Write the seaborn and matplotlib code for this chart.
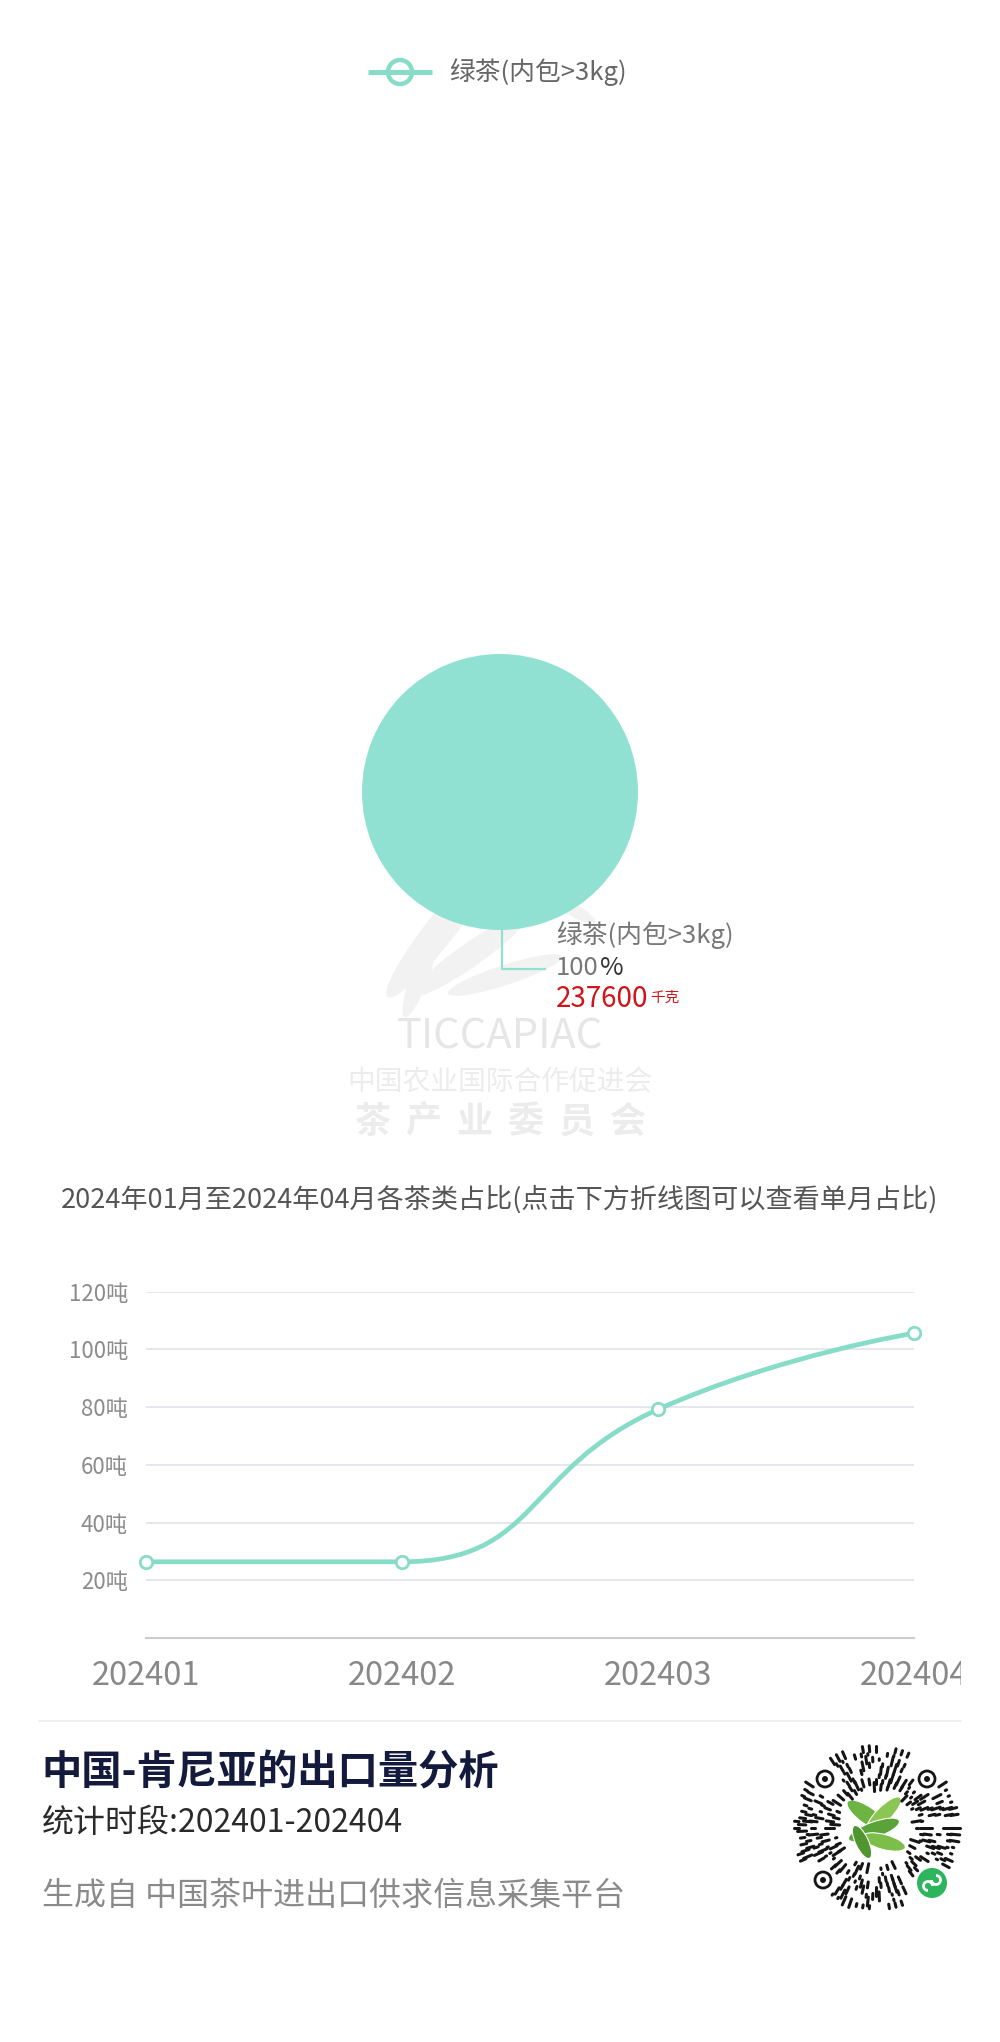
import numpy as np
import pandas as pd
import seaborn as sns
import matplotlib.pyplot as plt
from matplotlib.path import Path
from matplotlib.patches import PathPatch, Circle, Ellipse, Arc
from matplotlib.collections import LineCollection
from matplotlib.transforms import Bbox, TransformedBbox

# Data
pie_labels = ['绿茶(内包>3kg)']
pie_values = [237600]          # 千克
pie_share = ['100']
months = ['202401', '202402', '202403', '202404']
tonnes = [26.4, 26.4, 79.2, 105.6]
y_ticks = [20, 40, 60, 80, 100, 120]
y_tick_labels = [f'{v}吨' for v in y_ticks]

subtitle = '2024年01月至2024年04月各茶类占比(点击下方折线图可以查看单月占比)'
title = '中国-肯尼亚的出口量分析'
period = '统计时段:202401-202404'
source = '生成自 中国茶叶进出口供求信息采集平台'

PIE = '#90e1d2'
LINE = '#86dcc7'
W, H = 1000, 2042

sns.set_theme(style='white')
plt.rcParams['font.family'] = ['Noto Sans CJK SC', 'DejaVu Sans']
plt.rcParams['axes.unicode_minus'] = False

fig = plt.figure(figsize=(W / 100, H / 100), dpi=100)
fig.patch.set_facecolor('white')


def fx(px):
    return px / W


def fy(py):
    return 1 - py / H


# pixel overlays, one behind the charts and one in front
back = fig.add_axes([0, 0, 1, 1], zorder=0)
front = fig.add_axes([0, 0, 1, 1], zorder=5)
for a in (back, front):
    a.set_xlim(0, W)
    a.set_ylim(H, 0)
    a.axis('off')
    a.patch.set_alpha(0)

# Legend
front.plot([368, 432], [72, 72], color=LINE, lw=3.6, solid_capstyle='butt')
front.add_patch(Circle((400, 72), 12, facecolor='white', edgecolor=LINE, lw=3.2))
front.text(449, 72, pie_labels[0], fontsize=18.5, color='#666666', va='center')

# Watermark
for (cx, cy, w, h, ang) in [(440, 930, 170, 30, -52), (470, 955, 140, 24, -35),
                            (505, 975, 120, 20, -18), (420, 975, 90, 18, -70),
                            (565, 905, 70, 14, 30)]:
    back.add_patch(Ellipse((cx, cy), w, h, angle=ang, facecolor='#f2f2f2', edgecolor='none'))
back.text(500, 1037, 'TICCAPIAC', fontsize=30, color='#e6e6e6', ha='center', va='center')
back.text(500, 1082, '中国农业国际合作促进会', fontsize=20, color='#ececec', ha='center', va='center')
for i, ch in enumerate('茶产业委员会'):
    back.text(500 + (i - 2.5) * 51, 1122, ch, fontsize=26, weight='bold', color='#ececec',
              ha='center', va='center')

# Pie
pr = 138
ax_pie = fig.add_axes([fx(500 - pr), fy(792 + pr), 2 * pr / W, 2 * pr / H], zorder=2)
ax_pie.pie(pie_values, colors=[PIE], startangle=90, radius=1,
           wedgeprops=dict(linewidth=0))
ax_pie.set_xlim(-1, 1)
ax_pie.set_ylim(-1, 1)
ax_pie.set_aspect('equal')
ax_pie.patch.set_alpha(0)

front.plot([502, 502, 545], [928, 969, 969], color=PIE, lw=1.6)
front.text(556, 935, pie_labels[0], fontsize=18.5, color='#777777', va='center')
t_pct = front.text(556, 968, pie_share[0], fontsize=18.5, color='#777777', va='center')
front.annotate('%', xy=(1, 0.5), xycoords=t_pct, xytext=(1, 0), textcoords='offset points',
               fontsize=18.5, color='#333333', va='center')
t_val = front.text(556, 999, str(pie_values[0]), fontsize=20, color='#d0141a', va='center')
front.annotate('千克', xy=(1, 0.3), xycoords=t_val, xytext=(1, 0), textcoords='offset points',
               fontsize=10.5, color='#d0141a', va='bottom')

# Subtitle
front.text(500, 1199, subtitle, fontsize=19.5, color='#555555', ha='center', va='center')

# Line chart
x_left, x_right = 146, 914
y_top, y_bot = 1291.6, 1638
ax = fig.add_axes([fx(x_left), fy(y_bot), (x_right - x_left) / W, (y_bot - y_top) / H], zorder=2)
ax.patch.set_alpha(0)
xs = np.arange(len(months))
ax.set_xlim(0, len(months) - 1)
ax.set_ylim(0, 120)

# smoothed line (echarts-style bezier control points, computed in pixel space)
sx = (x_right - x_left) / (len(months) - 1)
sy = (y_bot - y_top) / 120
px = xs * sx
py = np.array(tonnes) * sy
n = len(px)
cin = [None] * n
cout = [None] * n
cout[0] = (px[0], py[0])
cin[-1] = (px[-1], py[-1])
s = 0.5
for i in range(1, n - 1):
    x, y = px[i], py[i]
    x0, y0, x1, y1 = px[i - 1], py[i - 1], px[i + 1], py[i + 1]
    vx, vy = x1 - x0, y1 - y0
    l0 = np.hypot(x - x0, y - y0)
    l1 = np.hypot(x1 - x, y1 - y)
    r = l1 / (l0 + l1)
    nx, ny = x + vx * s * r, y + vy * s * r
    nx = max(min(nx, max(x1, x)), min(x1, x))
    ny = max(min(ny, max(y1, y)), min(y1, y))
    vx, vy = nx - x, ny - y
    cx, cy = x - vx * l0 / l1, y - vy * l0 / l1
    cx = max(min(cx, max(x0, x)), min(x0, x))
    cy = max(min(cy, max(y0, y)), min(y0, y))
    vx, vy = x - cx, y - cy
    nx, ny = x + vx * l1 / l0, y + vy * l1 / l0
    cin[i] = (cx, cy)
    cout[i] = (nx, ny)
verts = [(px[0], py[0])]
codes = [Path.MOVETO]
for i in range(n - 1):
    verts += [cout[i], cin[i + 1], (px[i + 1], py[i + 1])]
    codes += [Path.CURVE4] * 3
verts = [(vx_ / sx, vy_ / sy) for vx_, vy_ in verts]
ax.add_patch(PathPatch(Path(verts, codes), fill=False, edgecolor=LINE, lw=3.4,
                       capstyle='round', joinstyle='round', zorder=3))

df = pd.DataFrame({'x': xs, 'tonnes': tonnes})
sns.scatterplot(data=df, x='x', y='tonnes', ax=ax, s=80, color='white', edgecolor=LINE,
                linewidth=2.0, zorder=4, clip_on=False, legend=False)

ax.set_yticks(y_ticks, y_tick_labels)
ax.set_xticks(xs, months)
ax.grid(axis='y', color='#e6e6ee', lw=1.4)
ax.grid(axis='x', visible=False)
for sp in ['left', 'right', 'top']:
    ax.spines[sp].set_visible(False)
ax.spines['bottom'].set_color('#cccccc')
ax.spines['bottom'].set_linewidth(1.5)
ax.tick_params(axis='y', length=0, pad=13, labelsize=16, labelcolor='#8c8c8c')
ax.tick_params(axis='x', direction='in', length=9, width=1.1, color='#cccccc', pad=16,
               labelsize=23.5, labelcolor='#888888')
ax.set_xlabel('')
ax.set_ylabel('')
clip = TransformedBbox(Bbox([[fx(39), 0], [fx(961), 1]]), fig.transFigure)
for lbl in ax.get_xticklabels():
    lbl.set_clip_box(clip)
    lbl.set_clip_on(True)

# Footer
front.plot([39, 961], [1721, 1721], color='#eeeeee', lw=1.2)
front.text(41, 1773, title, fontsize=29, weight='bold', color='#141a3c', va='center')
front.text(42, 1823, period, fontsize=23, color='#2a2a2a', va='center')
front.text(42, 1896, source, fontsize=23, color='#8a8a8a', va='center')

# Mini-program code
qx, qy, qr = 876, 1828, 82
eyes = [(qx - 51, qy - 49), (qx + 51, qy - 49), (qx - 53, qy + 52)]
badge = (qx + 56, qy + 55)
segs = []
for k, rr in enumerate(np.arange(41, qr, 5.5)):
    m = int(2 * np.pi * rr / 6.5)
    for j in range(m):
        ang = 2 * np.pi * j / m
        ex, ey = qx + rr * np.cos(ang), qy + rr * np.sin(ang)
        if any(np.hypot(ex - a, ey - b) < 16 for a, b in eyes):
            continue
        if np.hypot(ex - badge[0], ey - badge[1]) < 21:
            continue
        v = (j * 7 + k * 11 + (j * k) % 5) % 9
        if v > 5:
            continue
        ln = 1.5 + v * 1.5
        dx, dy = np.cos(ang) * ln / 2, np.sin(ang) * ln / 2
        segs.append([(ex - dx, ey - dy), (ex + dx, ey + dy)])
front.add_collection(LineCollection(segs, colors='#151515', linewidths=2.2, capstyle='round'))
for a, b in eyes:
    front.add_patch(Circle((a, b), 8, facecolor='white', edgecolor='#151515', lw=2.0))
    front.add_patch(Circle((a, b), 3, facecolor='#151515', edgecolor='none'))
front.add_patch(Circle((qx, qy), 36, facecolor='white', edgecolor='none'))
for (cx, cy, w, h, ang, c) in [(qx - 8, qy - 12, 50, 17, 35, '#6db443'),
                               (qx + 8, qy - 14, 46, 15, -45, '#8cc652'),
                               (qx - 2, qy + 2, 54, 16, -20, '#5aa338'),
                               (qx + 8, qy + 14, 44, 15, 15, '#7dbd4a'),
                               (qx - 14, qy + 14, 36, 13, 65, '#4f9630')]:
    front.add_patch(Ellipse((cx, cy), w, h, angle=ang, facecolor=c, edgecolor='white', lw=0.8))
front.add_patch(Circle(badge, 15, facecolor='#2db55d', edgecolor='none'))
front.add_patch(Arc((badge[0] - 4, badge[1] + 3), 9, 9, theta1=90, theta2=360, color='white', lw=2))
front.add_patch(Arc((badge[0] + 4, badge[1] - 3), 9, 9, theta1=270, theta2=180, color='white', lw=2))

fig.savefig('out.png', dpi=100, facecolor='white')
